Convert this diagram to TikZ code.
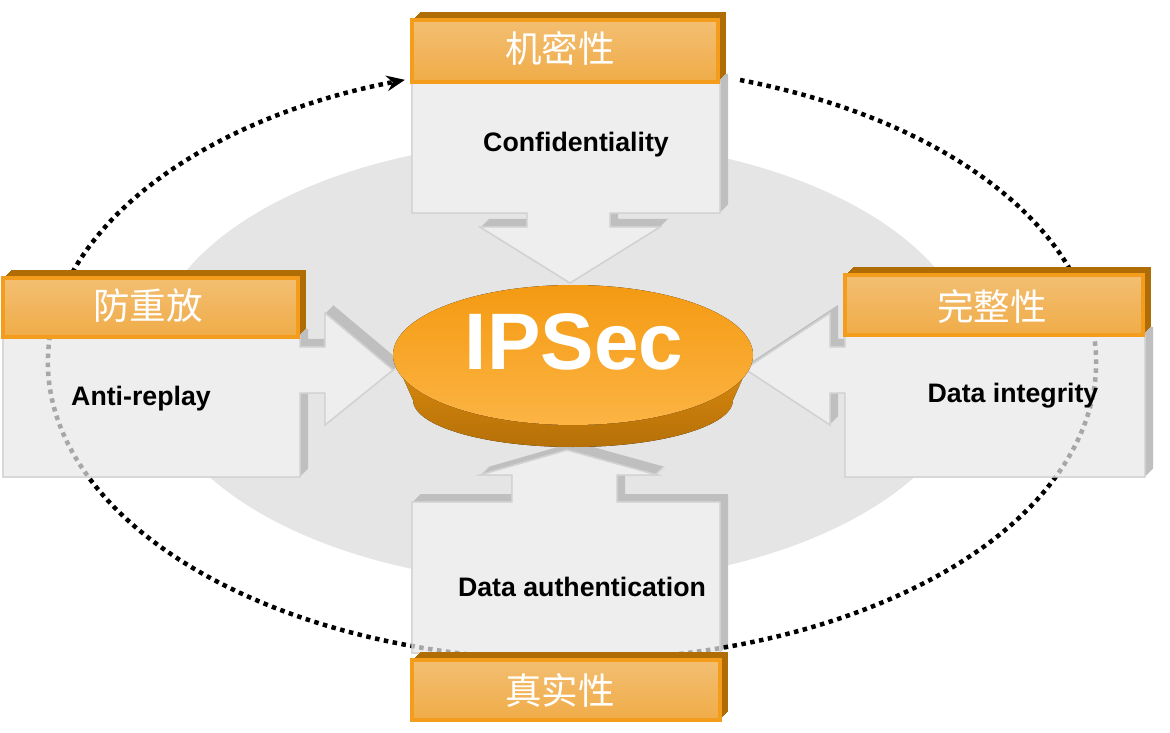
\documentclass[tikz,border=0pt]{standalone}
\usepackage{fontspec}
\setmainfont{Liberation Sans}
\newfontfamily\cjk{Noto Sans CJK SC}
\usetikzlibrary{arrows.meta}
\definecolor{hdrlight}{HTML}{F9C67C}
\definecolor{hdrmid}{HTML}{F6B24E}
\definecolor{hdredge}{HTML}{F49C1C}
\definecolor{hdrdark}{HTML}{B06D05}
\definecolor{ipstop}{HTML}{F49A12}
\definecolor{ipsbot}{HTML}{FCB444}
\definecolor{ipsside}{HTML}{DE8C0E}
\definecolor{ipsdark}{HTML}{B57008}
\tikzstyle{bodyface} = [fill=gray!13, draw=gray!35, line width=1pt]
\tikzstyle{bodyside} = [fill=gray!50]
\tikzstyle{header} = [top color=hdrlight, bottom color=hdrmid, draw=hdredge, line width=3pt, fill opacity=0.92]
\tikzstyle{headerside} = [fill=hdrdark]
\tikzstyle{engtext} = [font=\bfseries\fontsize{19}{19}\selectfont, anchor=base]
\tikzstyle{cntext} = [font=\cjk\fontsize{26}{26}\selectfont, text=white]
\tikzstyle{cyclearrow} = [line width=3.2pt, dash pattern=on 3.2pt off 3.2pt, -{Stealth[length=13pt,width=11pt]}]
\newcommand{\topblock}{(412,519) -- (412,650) -- (720,650) -- (720,519) -- (610,519) -- (610,505) -- (660,505) -- (570,449) -- (480,505) -- (527,505) -- (527,519) -- cycle}
\newcommand{\leftblock}{(3,255) -- (3,395) -- (300,395) -- (300,385) -- (325,385) -- (325,419) -- (393,362) -- (325,307) -- (325,339) -- (300,339) -- (300,255) -- cycle}
\newcommand{\rightblock}{(1145,255) -- (1145,397) -- (845,397) -- (845,385) -- (830,385) -- (830,419) -- (745,363) -- (830,307) -- (830,339) -- (845,339) -- (845,255) -- cycle}
\newcommand{\bottomblock}{(412,79) -- (412,230) -- (512,230) -- (512,257) -- (480,257) -- (567,282) -- (657,257) -- (617,257) -- (617,230) -- (720,230) -- (720,79) -- cycle}
\newcommand{\topheader}{(412,650) rectangle (718,712)}
\newcommand{\leftheader}{(3,395) rectangle (298,454)}
\newcommand{\rightheader}{(845,397) rectangle (1143,457)}
\newcommand{\bottomheader}{(412,12) rectangle (720,72)}

\begin{document}
\begin{tikzpicture}[x=0.025cm, y=0.025cm]
\useasboundingbox (0,0) rectangle (1170,732);
\fill [gray!20] (562,370) ellipse [x radius=412, y radius=222];

\foreach \blk in {\topblock,\leftblock,\rightblock,\bottomblock}
  \foreach \s in {1,...,8}
    \fill [bodyside, shift={(\s,\s)}] \blk;
\foreach \blk in {\topblock,\leftblock,\rightblock,\bottomblock}
  \filldraw [bodyface] \blk;

\coordinate (loopstart) at (740,652);
\draw [cyclearrow] (loopstart) arc [start angle=71.3, end angle=-251.4, x radius=524, y radius=298];

\foreach \blk in {\topblock,\leftblock,\rightblock,\bottomblock}
  \fill [bodyface, fill opacity=0.7] \blk;
\foreach \hdr in {\topheader,\leftheader,\rightheader,\bottomheader}
  \foreach \s in {1,...,8}
    \fill [headerside, shift={(\s,\s)}] \hdr;
\foreach \hdr in {\topheader,\leftheader,\rightheader,\bottomheader}
  \draw [header] \hdr;

\fill [top color=ipsside, bottom color=ipsdark] (393,377) -- (413,332) arc [start angle=180, end angle=360, x radius=160, y radius=47] -- (753,377) -- cycle;
\fill [top color=ipstop, bottom color=ipsbot] (573,377) ellipse [x radius=180, y radius=70];
\node (ipsec) [font=\bfseries\fontsize{57}{57}\selectfont, text=white, anchor=base] at (574,362) {IPSec};

\node (conf) [engtext] at (576,580) {Confidentiality};
\node (anti) [engtext] at (141,327) {Anti-replay};
\node (integ) [engtext] at (1013,330) {Data integrity};
\node (auth) [engtext] at (582,136) {Data authentication};
\node (jimi) [cntext] at (560,684) {机密性};
\node (fangchong) [cntext] at (148,426) {防重放};
\node (wanzheng) [cntext] at (992,426) {完整性};
\node (zhenshi) [cntext] at (560,42) {真实性};
\end{tikzpicture}
\end{document}
